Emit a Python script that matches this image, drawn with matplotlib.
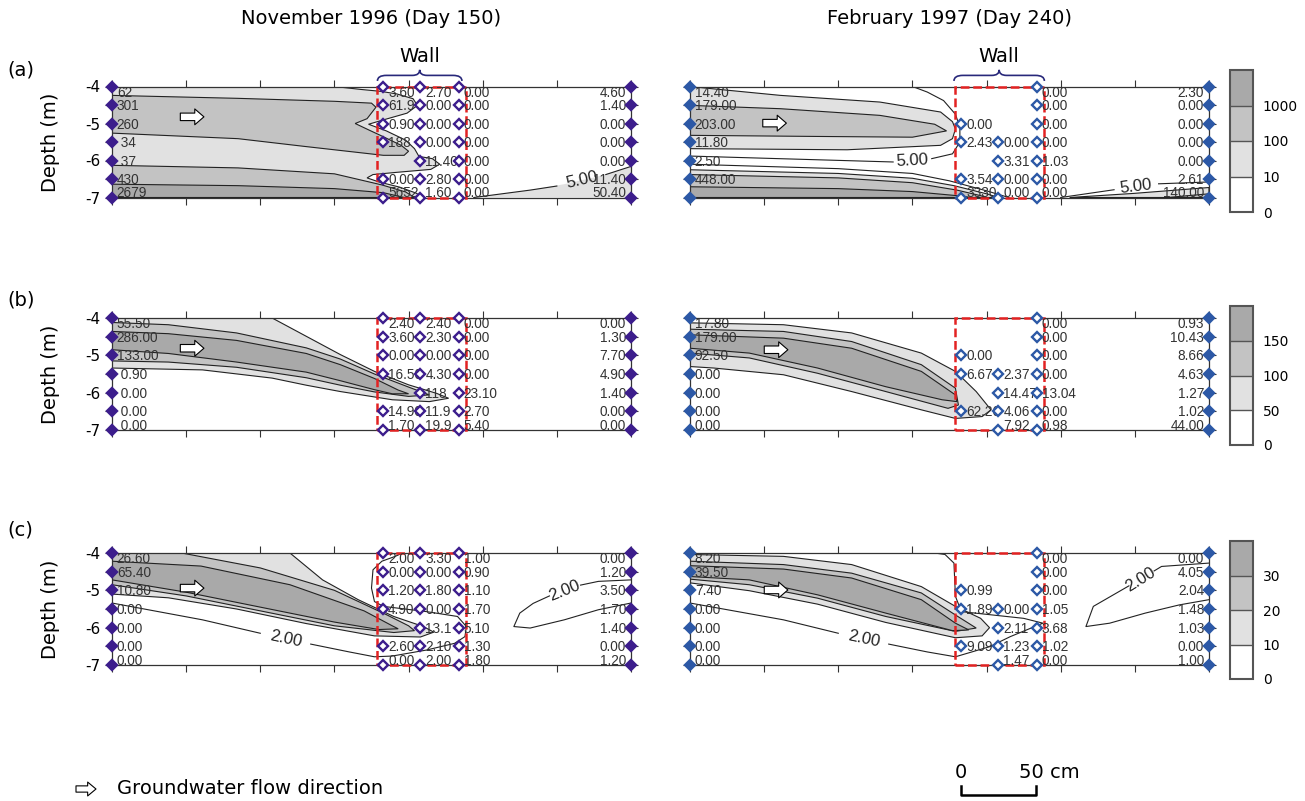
import matplotlib as mpl

mpl.use('Agg')
import matplotlib.pyplot as plt
from matplotlib.colors import ListedColormap, BoundaryNorm
from matplotlib.cm import ScalarMappable
from matplotlib.patches import Rectangle, PathPatch
from matplotlib.path import Path
from matplotlib.transforms import blended_transform_factory

plt.rcParams['axes.unicode_minus'] = False
plt.rcParams['font.family'] = ['DejaVu Sans']

# ---- sampling grid (x in cm along the section, depth in m) ----
depths = [-4.0, -4.5, -5.0, -5.5, -6.0, -6.5, -7.0]
well_x = [0, 183, 208, 234, 350]
wall_x = [179, 239]

# ---- measured values, one list per well column (None = no sampler) ----
nov_a = [["62", "301", "260", " 34", " 37", "430", "2679"],
         ["3.60", "61.9", "0.90", "188", None, "0.00", "5652"],
         ["2.70", "0.00", "0.00", "0.00", "11.40", "2.80", "1.60"],
         ["0.00", "0.00", "0.00", "0.00", "0.00", "0.00", "0.00"],
         ["4.60", "1.40", "0.00", "0.00", "0.00", "11.40", "50.40"]]
feb_a = [["14.40", "179.00", "203.00", "11.80", "2.50", "448.00", ""],
         [None, None, "0.00", "2.43", None, "3.54", "3330"],
         [None, None, None, "0.00", "3.31", "0.00", "0.00"],
         ["0.00", "0.00", "0.00", "0.00", "1.03", "0.00", "0.00"],
         ["2.30", "0.00", "0.00", "0.00", "0.00", "2.61", "140.00"]]
nov_b = [["55.50", "286.00", "133.00", " 0.90", " 0.00", " 0.00", " 0.00"],
         ["2.40", "3.60", "0.00", "16.50", None, "14.90", "1.70"],
         ["2.40", "2.30", "0.00", "4.30", "118", "11.9", "19.9"],
         ["0.00", "0.00", "0.00", "0.00", "23.10", "2.70", "5.40"],
         ["0.00", "1.30", "7.70", "4.90", "1.40", "0.00", "0.00"]]
feb_b = [["17.80", "179.00", "92.50", "0.00", "0.00", "0.00", "0.00"],
         [None, None, "0.00", "6.67", None, "62.26", None],
         [None, None, None, "2.37", "14.47", "4.06", "7.92"],
         ["0.00", "0.00", "0.00", "0.00", "13.04", "0.00", "0.98"],
         ["0.93", "10.43", "8.66", "4.63", "1.27", "1.02", "44.00"]]
nov_c = [["26.60", "65.40", "10.80", "0.00", "0.00", "0.00", "0.00"],
         ["2.00", "0.00", "1.20", "4.90", None, "2.60", "0.00"],
         ["3.30", "0.00", "1.80", "0.00", "13.1", "2.10", "2.00"],
         ["1.00", "0.90", "1.10", "1.70", "5.10", "1.30", "1.80"],
         ["0.00", "1.20", "3.50", "1.70", "1.40", "0.00", "1.20"]]
feb_c = [["8.20", "39.50", "7.40", "0.00", "0.00", "0.00", "0.00"],
         [None, None, "0.99", "1.89", None, "9.09", None],
         [None, None, None, "0.00", "2.11", "1.23", "1.47"],
         ["0.00", "0.00", "0.00", "1.05", "3.68", "1.02", "0.00"],
         ["0.00", "4.05", "2.04", "1.48", "1.03", "0.00", "1.00"]]

# ---- colour classes of each row ----
levels_a = [0, 10, 100, 1000, 10000]
levels_b = [0, 50, 100, 150, 200]
levels_c = [0, 10, 20, 30, 40]
shades = ['white', '#e1e1e1', '#c3c3c3', '#a9a9a9']

# ---- contour outlines: (x cm, depth m) ----
a_nov_10 = [(0, -4.0), (150, -4.0), (168, -4.08), (181, -4.13), (192, -4.2), (203, -4.33),
            (206, -4.51), (199, -4.72), (185, -4.88), (173, -5.02), (185, -5.2), (198, -5.45),
            (204, -5.68), (207, -5.89), (216, -5.95), (221, -6.1), (215, -6.24), (192, -6.32),
            (176, -6.38), (172, -6.47), (180, -6.58), (194, -6.72), (205, -6.88), (210, -7.0), (0, -7.0)]
a_nov_100_up = [(0, -4.24), (85, -4.32), (150, -4.4), (175, -4.45), (178, -4.56), (172, -4.87),
                (164, -5.0), (174, -5.19), (181, -5.32), (195, -5.59), (200, -5.75), (197, -5.86),
                (183, -5.86), (130, -5.62), (85, -5.41), (0, -5.26)]
a_nov_100_low = [(0, -6.13), (85, -6.2), (150, -6.36), (182, -6.66), (198, -6.85), (204, -7.0), (0, -7.0)]
a_nov_1000 = [(0, -6.64), (85, -6.68), (150, -6.76), (183, -6.87), (197, -7.0), (0, -7.0)]
a_nov_5_fill = [(244, -7.0), (282, -6.8), (305, -6.64), (327, -6.44), (350, -6.16), (350, -7.0)]
a_nov_5_lines = [[(244, -7.0), (282, -6.8), (300, -6.69)], [(333, -6.38), (350, -6.16)]]
a_nov_tags = [("5.00", 317, -6.53, 13)]

a_feb_10_lens = [(0, -4.0), (20, -4.08), (61, -4.24), (128, -4.42), (169, -4.69), (177, -4.95),
                 (179, -5.15), (177, -5.41), (169, -5.59), (106, -5.71), (0, -5.68)]
a_feb_100_lens = [(0, -4.51), (61, -4.6), (128, -4.78), (165, -5.02), (173, -5.2), (150, -5.37),
                  (86, -5.35), (0, -5.32)]
a_feb_10_low = [(0, -6.25), (100, -6.35), (150, -6.48), (178, -6.68), (200, -6.9), (208, -7.0), (0, -7.0)]
a_feb_100_low = [(0, -6.38), (100, -6.47), (150, -6.6), (180, -6.8), (196, -6.95), (200, -7.0), (0, -7.0)]
a_feb_1000_low = [(0, -6.71), (100, -6.76), (150, -6.84), (180, -6.95), (190, -7.0), (0, -7.0)]
a_feb_10_right = [(256, -7.0), (299, -6.89), (350, -6.73), (350, -7.0)]
a_feb_100_right = [(322, -7.0), (350, -6.9), (350, -7.0)]
a_feb_5_lines = [[(0, -5.88), (60, -5.95), (137, -6.04)],
                 [(163, -5.95), (177, -5.82), (182, -5.5), (182, -5.1), (179, -4.75), (171, -4.38),
                  (160, -4.15), (150, -4.0)],
                 [(0, -6.1), (100, -6.22), (150, -6.35), (175, -6.55), (200, -6.82), (215, -7.0)],
                 [(250, -7.0), (286, -6.79)], [(316, -6.63), (350, -6.58)]]
a_feb_tags = [("5.00", 150, -6.0, 3), ("5.00", 301, -6.71, 7)]

b_nov_50 = [(0, -4.0), (108, -4.0), (131, -4.49), (154, -4.98), (177, -5.43), (200, -5.79),
            (219, -6.02), (227, -6.15), (214, -6.24), (189, -6.19), (154, -5.97), (131, -5.8),
            (108, -5.61), (61, -5.39), (0, -5.34)]
b_nov_100 = [(0, -4.12), (38, -4.18), (84, -4.4), (131, -4.8), (154, -5.1), (177, -5.5), (200, -5.85),
             (214, -6.06), (200, -6.1), (177, -5.98), (154, -5.8), (131, -5.6), (84, -5.32),
             (38, -5.18), (0, -5.15)]
b_nov_150 = [(0, -4.36), (38, -4.42), (84, -4.6), (131, -4.95), (154, -5.25), (177, -5.62),
             (193, -5.93), (200, -6.03), (189, -6.03), (177, -5.92), (154, -5.68), (131, -5.45),
             (84, -5.18), (38, -4.95), (0, -4.85)]

b_feb_50 = [(0, -4.13), (63, -4.18), (109, -4.4), (156, -4.94), (179, -5.43), (193, -5.97),
            (203, -6.46), (197, -6.64), (179, -6.69), (156, -6.46), (109, -5.97), (63, -5.52),
            (16, -5.34), (0, -5.3)]
b_feb_100 = [(0, -4.3), (63, -4.36), (109, -4.63), (156, -5.25), (179, -5.88), (181, -6.33),
             (174, -6.42), (132, -5.97), (86, -5.48), (40, -5.07), (0, -4.94)]
b_feb_150 = [(0, -4.45), (63, -4.54), (109, -4.81), (156, -5.43), (179, -6.06), (180, -6.24),
             (170, -6.19), (132, -5.84), (86, -5.34), (40, -4.94), (0, -4.81)]

c_nov_10 = [(0, -4.0), (120, -4.0), (142, -4.72), (166, -5.25), (190, -5.7), (210, -5.97),
            (217, -6.12), (208, -6.25), (177, -6.22), (131, -5.89), (84, -5.5), (38, -5.2), (0, -5.1)]
c_nov_20 = [(0, -4.0), (47, -4.0), (100, -4.4), (150, -5.0), (185, -5.65), (200, -5.95),
            (204, -6.08), (190, -6.13), (150, -5.95), (100, -5.55), (50, -5.15), (0, -4.85)]
c_nov_30 = [(0, -4.22), (60, -4.35), (120, -4.85), (170, -5.55), (189, -5.95), (193, -6.03),
            (180, -6.05), (150, -5.85), (100, -5.45), (50, -5.05), (0, -4.72)]
c_nov_2_lines = [[(0, -5.34), (61, -5.79), (100, -6.15)],
                 [(134, -6.44), (160, -6.65), (177, -6.78), (189, -6.76), (212, -6.6), (231, -6.42),
                  (238, -6.24), (239, -5.97), (233, -5.7), (212, -5.57), (183, -5.43), (177, -5.3),
                  (175, -4.94), (176, -4.45), (182, -4.22), (191, -4.09), (196, -4.0)],
                 [(350, -4.72), (328, -4.76), (316, -4.86)],
                 [(295, -5.15), (284, -5.35), (275, -5.61), (271, -5.97), (282, -6.01), (305, -5.79),
                  (328, -5.52), (350, -5.34)]]
c_nov_tags = [("2.00", 117, -6.3, -12), ("2.00", 305, -5.0, 22)]

c_feb_10 = [(0, -4.04), (63, -4.09), (109, -4.31), (156, -4.9), (179, -5.43), (196, -5.75),
            (202, -6.0), (197, -6.22), (179, -6.27), (132, -5.86), (86, -5.37), (40, -5.01), (0, -4.8)]
c_feb_20 = [(0, -4.22), (63, -4.31), (109, -4.54), (156, -5.07), (179, -5.66), (193, -6.01),
            (179, -6.1), (132, -5.7), (86, -5.21), (40, -4.85), (0, -4.7)]
c_feb_30 = [(0, -4.34), (63, -4.43), (109, -4.67), (156, -5.25), (179, -5.88), (188, -6.06),
            (177, -6.08), (132, -5.61), (86, -5.12), (40, -4.72), (0, -4.63)]
c_feb_2_lines = [[(0, -5.34), (63, -5.79), (100, -6.15)],
                 [(134, -6.44), (160, -6.65), (179, -6.78), (202, -6.51), (216, -6.24), (238, -5.88),
                  (225, -5.75), (183, -5.57), (179, -5.16), (178, -4.27), (172, -4.04), (165, -4.0)],
                 [(350, -4.27), (318, -4.36), (313, -4.48)],
                 [(296, -4.88), (272, -5.43), (267, -5.97), (283, -5.88), (307, -5.61), (330, -5.39),
                  (350, -5.25)]]
c_feb_tags = [("2.00", 117, -6.3, -12), ("2.00", 304, -4.7, 32)]

# flow arrow centres
arrows_nov = [(54, -4.82), (54, -4.81), (54, -4.94)]
arrows_feb = [(57, -4.99), (58, -4.85), (58, -4.99)]

nov_col = '#3c1d8c'
feb_col = '#2c58a6'


def draw_panel(ax, labels, regions, lines, tags, mcolor, arrow, left):
    ax.set_xlim(0, 350)
    ax.set_ylim(-7, -4)
    for lev, pts, edge in regions:
        ax.fill([p[0] for p in pts], [p[1] for p in pts], fc=shades[lev],
                ec='#222222' if edge else 'none', lw=0.8, zorder=1)
    for seg in lines:
        ax.plot([p[0] for p in seg], [p[1] for p in seg], color='#222222', lw=0.8, zorder=2)
    for txt, x, y, rot in tags:
        ax.text(x, y, txt, rotation=rot, rotation_mode='anchor', ha='center', va='center',
                fontsize=12, family='Liberation Sans', color='#222222', zorder=2)

    # wall box
    ax.add_patch(Rectangle((wall_x[0], -7), wall_x[1] - wall_x[0], 3, fill=False, ec='#e32222',
                           lw=1.8, ls=(0, (3.5, 1.5)), clip_on=False, zorder=3))

    for i, xw in enumerate(well_x):
        edge_col = i in (0, len(well_x) - 1)
        for j, d in enumerate(depths):
            lab = labels[i][j]
            if lab is None:
                continue
            ax.plot(xw, d, marker='D', ms=5 if edge_col else 5.2, mfc=mcolor if edge_col else 'white',
                    mec=mcolor, mew=1.7, clip_on=False, zorder=6)
            dx = -3.5 if i == len(well_x) - 1 else 3.5
            dy = -4.5 if j == 0 else (3 if j == len(depths) - 1 else -0.8)
            ax.annotate(lab, (xw, d), xytext=(dx, dy), textcoords='offset points',
                        ha='right' if dx < 0 else 'left', va='center', fontsize=9.8,
                        family='Liberation Sans', color='#333333', zorder=5, annotation_clip=False)

    ax.annotate('', xy=(arrow[0] + 8, arrow[1]), xytext=(-17, 0), textcoords='offset points',
                arrowprops=dict(arrowstyle='simple,head_length=0.55,head_width=0.95,tail_width=0.45',
                                mutation_scale=12, fc='white', ec='black', lw=0.8,
                                shrinkA=0, shrinkB=0), zorder=7)

    ax.set_xticks(range(0, 351, 50))
    ax.set_yticks(depths)
    ax.tick_params(axis='x', top=True, bottom=True, direction='out', length=5, width=0.8,
                   color='#333333', labelbottom=False)
    ax.tick_params(axis='y', left=True, right=True, direction='out', length=5, width=0.8,
                   color='#333333', labelsize=11, labelleft=left)
    if left:
        ax.set_yticklabels(['-4', '', '-5', '', '-6', '', '-7'])
        ax.set_ylabel('Depth (m)', fontsize=14)
        ax.yaxis.set_label_coords(-0.10, 0.5)
    for sp in ax.spines.values():
        sp.set_linewidth(0.9)
        sp.set_color('#333333')


def draw_brace(ax, x0, x1):
    tr = blended_transform_factory(ax.transData, ax.transAxes)
    xm = (x0 + x1) / 2
    verts = [(x0, 1.05), (x0, 1.10), (x0 + 6, 1.10), (xm - 5, 1.10), (xm, 1.10), (xm, 1.15),
             (xm, 1.10), (xm + 5, 1.10), (x1 - 6, 1.10), (x1, 1.10), (x1, 1.05)]
    codes = [Path.MOVETO, Path.CURVE3, Path.CURVE3, Path.LINETO, Path.CURVE3, Path.CURVE3,
             Path.CURVE3, Path.CURVE3, Path.LINETO, Path.CURVE3, Path.CURVE3]
    ax.add_patch(PathPatch(Path(verts, codes), fc='none', ec='#28287a', lw=1.2,
                           transform=tr, clip_on=False))
    ax.text(xm, 1.27, 'Wall', transform=tr, ha='center', va='center', fontsize=14)


def draw_bar(fig, rect, bounds):
    cax = fig.add_axes(rect)
    cmap = ListedColormap(shades)
    norm = BoundaryNorm(bounds, cmap.N)
    cb = fig.colorbar(ScalarMappable(norm=norm, cmap=cmap), cax=cax, ticks=bounds[:-1],
                      drawedges=True)
    cb.minorticks_off()
    cb.ax.set_yticklabels([str(b) for b in bounds[:-1]])
    cb.outline.set_edgecolor('#555555')
    cb.outline.set_linewidth(1.5)
    cb.outline.set_joinstyle('miter')
    cb.dividers.set_color('#555555')
    cb.dividers.set_linewidth(1.0)
    cax.tick_params(which='both', length=0, labelsize=10, pad=7)
    cax.xaxis.set_ticks([])


def Draw():
    fig = plt.figure(figsize=(13.05, 8.01), dpi=100)
    W, H = 1305.0, 801.0
    rows_px = [(86.5, 197.5), (318, 430), (553, 665)]
    cols_px = [(112, 631), (690, 1209)]
    axes = []
    for top, bot in rows_px:
        row = []
        for x0, x1 in cols_px:
            row.append(fig.add_axes([x0 / W, 1 - bot / H, (x1 - x0) / W, (bot - top) / H]))
        axes.append(row)

    draw_panel(axes[0][0], nov_a,
               [(1, a_nov_10, True), (1, a_nov_5_fill, False), (2, a_nov_100_up, True),
                (2, a_nov_100_low, True), (3, a_nov_1000, True)],
               a_nov_5_lines, a_nov_tags, nov_col, arrows_nov[0], True)
    draw_panel(axes[0][1], feb_a,
               [(1, a_feb_10_lens, True), (1, a_feb_10_low, True), (1, a_feb_10_right, True),
                (2, a_feb_100_lens, True), (2, a_feb_100_low, True), (2, a_feb_100_right, True),
                (3, a_feb_1000_low, True)],
               a_feb_5_lines, a_feb_tags, feb_col, arrows_feb[0], False)
    draw_panel(axes[1][0], nov_b,
               [(1, b_nov_50, True), (2, b_nov_100, True), (3, b_nov_150, True)],
               [], [], nov_col, arrows_nov[1], True)
    draw_panel(axes[1][1], feb_b,
               [(1, b_feb_50, True), (2, b_feb_100, True), (3, b_feb_150, True)],
               [], [], feb_col, arrows_feb[1], False)
    draw_panel(axes[2][0], nov_c,
               [(1, c_nov_10, True), (2, c_nov_20, True), (3, c_nov_30, True)],
               c_nov_2_lines, c_nov_tags, nov_col, arrows_nov[2], True)
    draw_panel(axes[2][1], feb_c,
               [(1, c_feb_10, True), (2, c_feb_20, True), (3, c_feb_30, True)],
               c_feb_2_lines, c_feb_tags, feb_col, arrows_feb[2], False)

    draw_brace(axes[0][0], 179, 236)
    draw_brace(axes[0][1], 178, 239)

    # colour keys
    draw_bar(fig, [1230 / W, 1 - 212 / H, 23 / W, 142 / H], levels_a)
    draw_bar(fig, [1230 / W, 1 - 445 / H, 23 / W, 139 / H], levels_b)
    draw_bar(fig, [1230 / W, 1 - 679 / H, 23 / W, 138 / H], levels_c)

    fig.text(371.5 / W, 1 - 18 / H, 'November 1996 (Day 150)', ha='center', va='center', fontsize=14)
    fig.text(949.5 / W, 1 - 18 / H, 'February 1997 (Day 240)', ha='center', va='center', fontsize=14)
    for lab, y in zip(['(a)', '(b)', '(c)'], [70, 300, 530]):
        fig.text(7 / W, 1 - y / H, lab, ha='left', va='center', fontsize=14)

    # legend arrow + text
    axes[2][0].annotate('', xy=(96, 12), xycoords='figure pixels', xytext=(76, 12),
                        textcoords='figure pixels', annotation_clip=False,
                        arrowprops=dict(arrowstyle='simple,head_length=0.6,head_width=1.0,tail_width=0.45',
                                        mutation_scale=10, fc='white', ec='black', lw=0.8,
                                        shrinkA=0, shrinkB=0))
    fig.text(117 / W, 12 / H, 'Groundwater flow direction', ha='left', va='center', fontsize=14)

    # 50 cm scale bar in the section's own x units
    sax = axes[2][1]
    tr = blended_transform_factory(sax.transData, fig.transFigure)
    sax.plot([183, 183, 233, 233], [0.0185, 0.0075, 0.0075, 0.0185], transform=tr,
             clip_on=False, color='black', lw=1.8)
    sax.text(183, 0.036, '0', transform=tr, ha='center', va='center', fontsize=14)
    sax.text(222, 0.036, '50 cm', transform=tr, ha='left', va='center', fontsize=14)

    plt.savefig('out.png', dpi=100)


if __name__ == "__main__":
    Draw()
